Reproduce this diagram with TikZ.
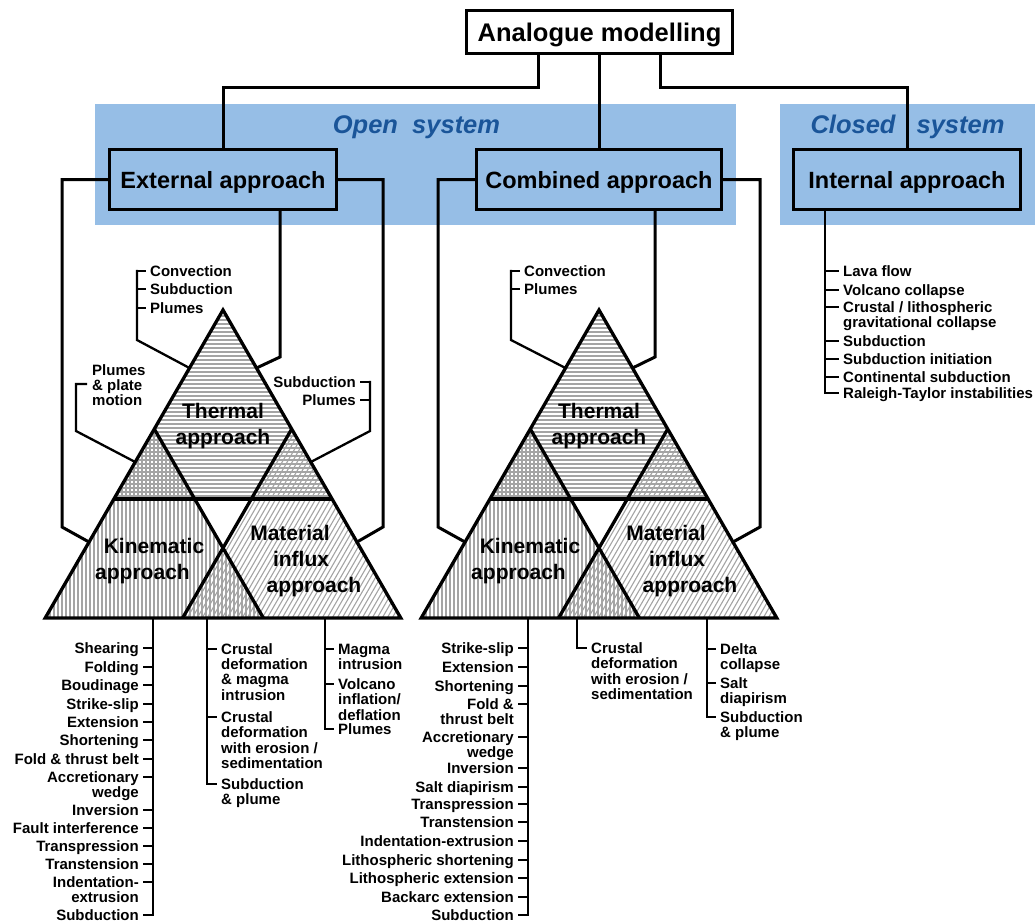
\documentclass[tikz,border=0pt]{standalone}
\usepackage{fontspec}
\setmainfont{Liberation Sans}
\definecolor{band}{HTML}{96BEE6}
\definecolor{bluetxt}{HTML}{1A5599}
\definecolor{hatchgray}{HTML}{A4A4A4}
\newcommand\ml[2]{\begin{tabular}[t]{@{}#1@{}}#2\end{tabular}}
\newcommand\dropbox[2]{\raisebox{-#1}[\height][\depth]{#2}}
% item with text on the left of a vertical line at x=#1
\newcommand\litem[4]{%
  \node[lst,anchor=base east] (#3) at (#1-14,#2+5.5) {\ml{r}{#4}};
  \draw[brk] (#1,#2) -- ([shift={(5pt,5.5pt)}]#3.base east);}
% item with text on the right of a vertical line at x=#2
\newcommand\ritem[5][14]{%
  \node[lst,anchor=base west] (#4) at (#2+#1,#3+5.5) {\ml{l}{#5}};
  \draw[brk] (#2,#3) -- ([shift={(-5pt,5.5pt)}]#4.base west);}
% the three-triangle diagram centred at x=#1, names prefixed by #2
\newcommand\pyramid[2]{%
  \coordinate (#2A) at (#1,310);
  \coordinate (#2BL) at (#1-177.8,618);
  \coordinate (#2BR) at (#1+177.8,618);
  \coordinate (#2KA) at (#1-68.7,429);
  \coordinate (#2MA) at (#1+68.7,429);
  \coordinate (#2TL) at (#1-109.1,499);
  \coordinate (#2TR) at (#1+109.1,499);
  \coordinate (#2KR) at (#1+40.4,618);
  \coordinate (#2ML) at (#1-40.4,618);
  \coordinate (#2L1) at (#1-33.5,368);
  \coordinate (#2R1) at (#1+33.5,368);
  \coordinate (#2L2) at (#1-87.8,462);
  \coordinate (#2R2) at (#1+87.8,462);
  \coordinate (#2L3) at (#1-134,542);
  \coordinate (#2R3) at (#1+134,542);
  \begin{scope}
    \clip (#2A)--(#2TL)--(#2TR)--cycle;
    \foreach \yy in {312,316,...,500} \draw[hatch] (#1-115,\yy) -- (#1+115,\yy);
  \end{scope}
  \begin{scope}
    \clip (#2KA)--(#2BL)--(#2KR)--cycle;
    \foreach \xx in {-177,-173,...,43} \draw[hatch] (#1+\xx,425) -- (#1+\xx,620);
  \end{scope}
  \begin{scope}
    \clip (#2MA)--(#2ML)--(#2BR)--cycle;
    \foreach \xx in {-37,-32,...,182} \draw[hatch] (#1+\xx,620) -- (#1+\xx+116,419);
  \end{scope}
  \draw[tri] (#2A)--(#2BL)--(#2BR)--cycle;
  \draw[tri] (#2TL)--(#2TR);
  \draw[tri] (#2KA)--(#2KR);
  \draw[tri] (#2MA)--(#2ML);
  \node[tlab] (#2th) at (#1,426) {Thermal\\approach};
  \node[tlab] (#2kin) at (#1-80.5,561) {\hspace*{23pt}Kinematic\\approach};
  \node[tlab] (#2mat) at (#1+67,561) {Material\\\hspace*{22pt}influx\\\hspace*{48pt}approach};
}

\begin{document}
\begin{tikzpicture}[x=1pt,y=-1pt,
  topbox/.style={draw,line width=3pt,fill=white,minimum width=266,minimum height=43,inner sep=0pt,
    font=\fontsize{25.5}{30}\selectfont\bfseries},
  appbox/.style={draw,line width=3pt,fill=band,minimum height=60,inner sep=0pt,
    font=\fontsize{23.5}{28}\selectfont\bfseries},
  systxt/.style={text=bluetxt,inner sep=0pt,font=\fontsize{25.5}{30}\selectfont\bfseries\itshape},
  conn/.style={line width=3pt},
  brk/.style={line width=2.3pt,line cap=rect},
  tri/.style={line width=3.3pt},
  hatch/.style={line width=1.1pt,hatchgray},
  lst/.style={inner sep=0pt,font=\fontsize{15}{15}\selectfont\bfseries},
  tlab/.style={inner sep=0pt,align=center,font=\fontsize{21}{26}\selectfont\bfseries}]
\useasboundingbox (0,0) rectangle (1035,922);

% system bands
\fill[band] (95,104) rectangle (736,225);
\fill[band] (780,104) rectangle (1035,225);
\node[systxt,anchor=base] (open) at (416.5,133) {Open\ \ system};
\node[systxt,anchor=base] (closed) at (907.5,133) {Closed\hspace{14pt} system};

% boxes
\node[topbox] (top) at (599.5,32) {\dropbox{3pt}{Analogue modelling}};
\node[appbox,minimum width=227] (ext) at (223,179.5) {\dropbox{2.5pt}{External approach}};
\node[appbox,minimum width=245] (comb) at (599,179.5) {\dropbox{2.5pt}{Combined approach}};
\node[appbox,minimum width=227] (int) at (907,179.5) {\dropbox{2.5pt}{Internal approach}};

% connectors from the top box
\draw[conn] (538,0 |- top.south) -- (538,87) -| (ext.north);
\draw[conn] (top.south -| comb.north) -- (comb.north);
\draw[conn] (660,0 |- top.south) -- (660,87) -| (int.north);

% pyramids
\pyramid{223}{l}
\pyramid{599}{c}

% connectors from the approach boxes to the pyramids
\draw[conn] (ext.west) -| (62,527) -- (lL3);
\draw[conn] (ext.east) -| (383,527) -- (lR3);
\draw[conn] (280,0 |- ext.south) -- (280,357) -- (lR1);
\draw[conn] (comb.west) -| (438,527) -- (cL3);
\draw[conn] (comb.east) -| (760,527) -- (cR3);
\draw[conn] (655,0 |- comb.south) -- (655,357) -- (cR1);

% brackets on the left pyramid
\ritem[13]{137}{271}{lc1}{Convection}
\ritem[13]{137}{289}{lc2}{Subduction}
\ritem[13]{137}{308}{lc3}{Plumes}
\draw[brk] (137,271) -- (137,340) -- (lL1);
\node[lst,anchor=base west] (pm) at (92,375.5) {\fontsize{15}{14}\selectfont\ml{l}{Plumes\\\& plate\\motion}};
\draw[brk] ([shift={(-6pt,-8.5pt)}]pm.base west) -| (76,431) -- (lL2);
\litem{370}{382}{ls1}{Subduction}
\litem{370}{400}{ls2}{Plumes}
\draw[brk] (370,382) -- (370,431) -- (lR2);

% bracket on the middle pyramid
\ritem[13]{511}{271}{cc1}{Convection}
\ritem[13]{511}{289}{cc2}{Plumes}
\draw[brk] (511,271) -- (511,340) -- (cL1);

% lists below the left pyramid
\draw[brk] (153,618) -- (153,915);
\litem{153}{648}{k1}{Shearing}
\litem{153}{667}{k2}{Folding}
\litem{153}{685}{k3}{Boudinage}
\litem{153}{704}{k4}{Strike-slip}
\litem{153}{722}{k5}{Extension}
\litem{153}{740}{k6}{Shortening}
\litem{153}{759}{k7}{Fold \& thrust belt}
\litem{153}{777}{k8}{Accretionary\\wedge}
\litem{153}{810}{k9}{Inversion}
\litem{153}{828}{k10}{Fault interference}
\litem{153}{846}{k11}{Transpression}
\litem{153}{864}{k12}{Transtension}
\litem{153}{882}{k13}{Indentation-\\extrusion}
\litem{153}{915}{k14}{Subduction}

\draw[brk] (207,618) -- (207,784);
\ritem{207}{649}{km1}{Crustal\\deformation\\\& magma\\intrusion}
\ritem{207}{717}{km2}{Crustal\\deformation\\with erosion /\\sedimentation}
\ritem{207}{784}{km3}{Subduction\\\& plume}

\draw[brk] (325,618) -- (325,729);
\ritem[13]{325}{649}{m1}{Magma\\intrusion}
\ritem[13]{325}{684}{m2}{Volcano\\inflation/\\deflation}
\ritem[13]{325}{729}{m3}{Plumes}

% lists below the middle pyramid
\draw[brk] (528,618) -- (528,915);
\litem{528}{648}{ck1}{Strike-slip}
\litem{528}{667}{ck2}{Extension}
\litem{528}{686}{ck3}{Shortening}
\litem{528}{704}{ck4}{Fold \&\\thrust belt}
\litem{528}{737}{ck5}{Accretionary\\wedge}
\litem{528}{768}{ck6}{Inversion}
\litem{528}{787}{ck7}{Salt diapirism}
\litem{528}{804}{ck8}{Transpression}
\litem{528}{822}{ck9}{Transtension}
\litem{528}{841}{ck10}{Indentation-extrusion}
\litem{528}{860}{ck11}{Lithospheric shortening}
\litem{528}{878}{ck12}{Lithospheric extension}
\litem{528}{897}{ck13}{Backarc extension}
\litem{528}{915}{ck14}{Subduction}

\draw[brk] (577,618) -- (577,648);
\ritem{577}{648}{ckm1}{Crustal\\deformation\\with erosion /\\sedimentation}

\draw[brk] (707,618) -- (707,717);
\ritem[13]{707}{649}{cm1}{Delta\\collapse}
\ritem[13]{707}{683}{cm2}{Salt\\diapirism}
\ritem[13]{707}{717}{cm3}{Subduction\\\& plume}

% list of the internal approach
\draw[brk] (825,0 |- int.south) -- (825,393);
\ritem[18]{825}{271}{i1}{Lava flow}
\ritem[18]{825}{290}{i2}{Volcano collapse}
\ritem[18]{825}{307}{i3}{Crustal / lithospheric\\gravitational collapse}
\ritem[18]{825}{341}{i4}{Subduction}
\ritem[18]{825}{359}{i5}{Subduction initiation}
\ritem[18]{825}{377}{i6}{Continental subduction}
\ritem[18]{825}{393}{i7}{Raleigh-Taylor instabilities}
\end{tikzpicture}
\end{document}
